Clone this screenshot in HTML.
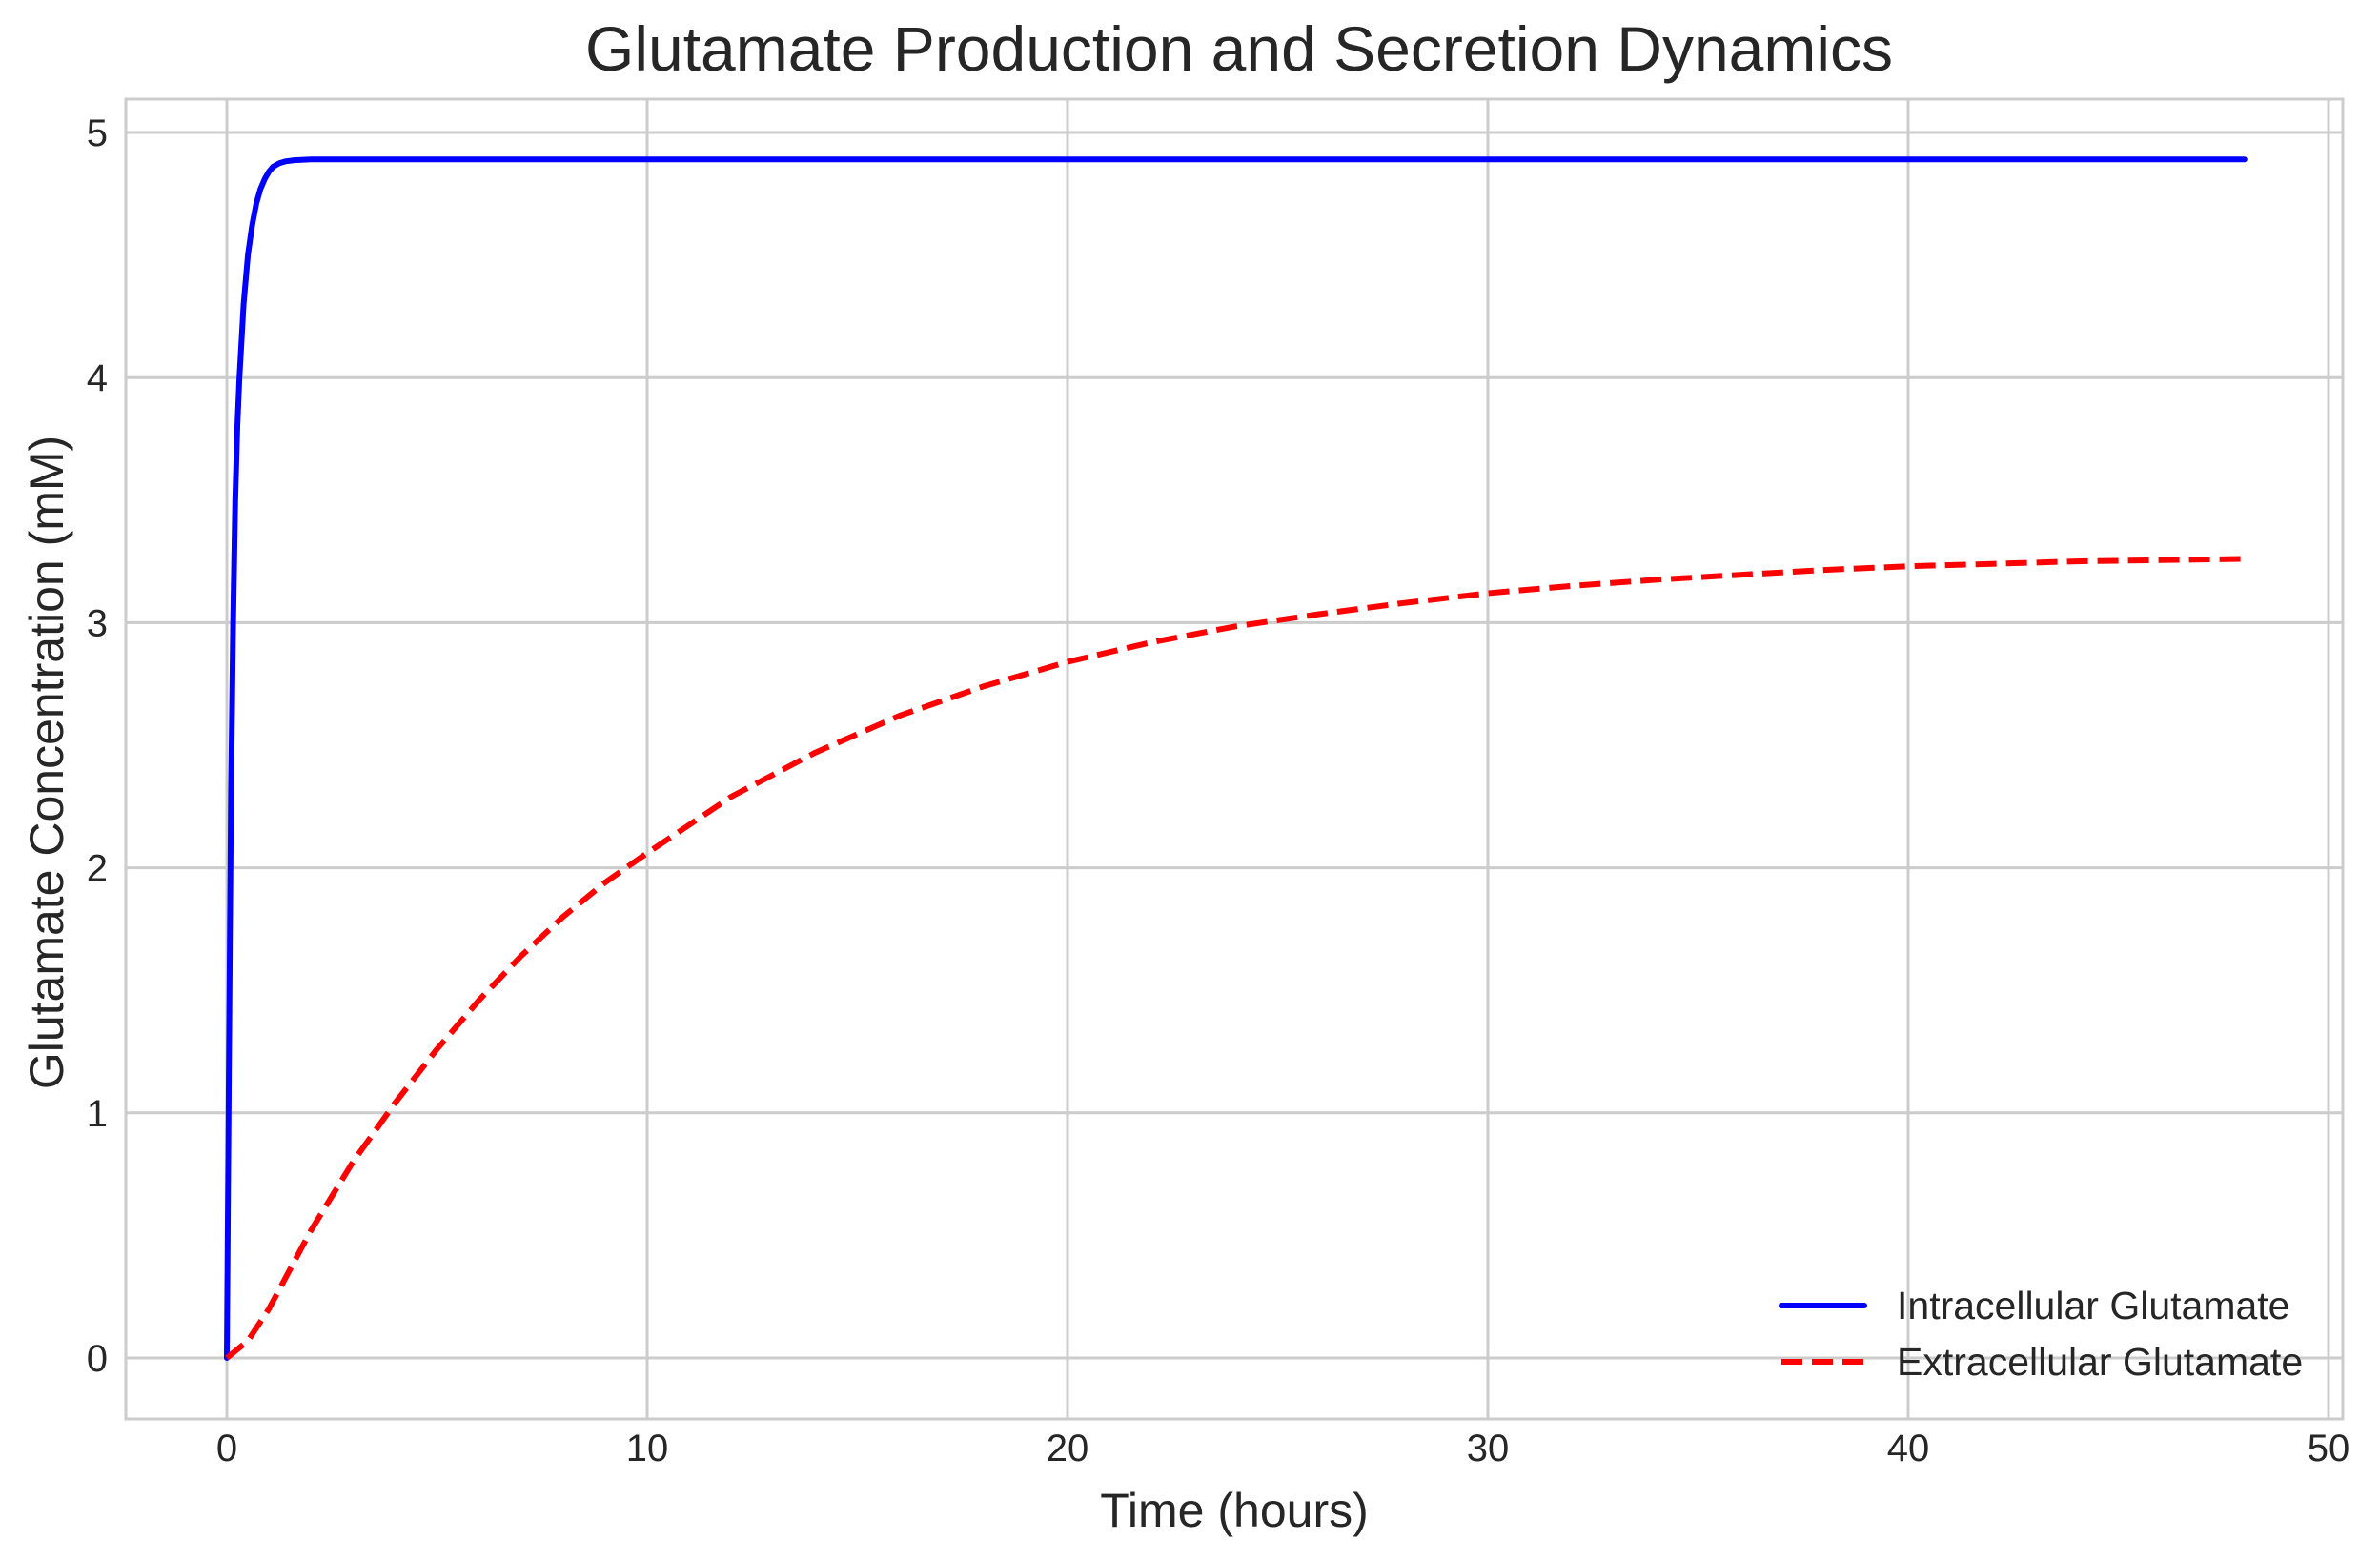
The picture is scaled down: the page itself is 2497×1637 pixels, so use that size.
<!DOCTYPE html>
<html><head><meta charset="utf-8"><style>
html,body{margin:0;padding:0;background:#fff;}
svg{display:block;font-family:"Liberation Sans",sans-serif;}
</style></head><body>
<svg id="chart" width="2497" height="1637" viewBox="0 0 2497 1637" xmlns="http://www.w3.org/2000/svg">
<rect x="0" y="0" width="2497" height="1637" fill="#fff"/>
<g id="grid"></g>
<g id="series"></g>
<rect x="132" y="104" width="2326" height="1385" fill="none" stroke="#cccccc" stroke-width="3"/>
<g id="ticks"></g>
<text x="1300" y="74" font-size="66" fill="#262626" text-anchor="middle">Glutamate Production and Secretion Dynamics</text>
<text x="1295" y="1602" font-size="50" fill="#262626" text-anchor="middle">Time (hours)</text>
<text x="0" y="0" font-size="50" fill="#262626" text-anchor="middle" transform="translate(66,800) rotate(-90)">Glutamate Concentration (mM)</text>
<g>
<g>
<line x1="1869" y1="1370" x2="1956" y2="1370" stroke="#0000ff" stroke-width="6" stroke-linecap="round"/>
<text x="1990" y="1384" font-size="41" fill="#262626">Intracellular Glutamate</text>
</g>
<g>
<line x1="1869" y1="1429" x2="1956" y2="1429" stroke="#ff0000" stroke-width="6" stroke-dasharray="22,10"/>
<text x="1990" y="1443" font-size="41" fill="#262626">Extracellular Glutamate</text>
</g>
</g>
</svg>
<script>
const xTicks = [0, 10, 20, 30, 40, 50];
const yTicks = [0, 1, 2, 3, 4, 5];
const intraT = [0, 0.05, 0.1, 0.15, 0.2, 0.25, 0.3, 0.4, 0.5, 0.6, 0.7, 0.8, 0.9, 1.0, 1.1, 1.25, 1.4, 1.6, 2, 10, 20, 30, 40, 48];
const intraV = [0, 1.2, 2.3, 3.0, 3.5, 3.8, 4.0, 4.3, 4.5, 4.62, 4.71, 4.77, 4.81, 4.84, 4.86, 4.875, 4.882, 4.887, 4.89, 4.89, 4.89, 4.89, 4.89, 4.89];
const extraT = [0, 0.5, 1, 1.5, 2, 3, 4, 5, 6, 7, 8, 9, 10, 12, 14, 16, 18, 20, 22, 24, 26, 28, 30, 32, 34, 36, 38, 40, 42, 44, 46, 48];
const extraV = [0, 0.07, 0.2, 0.36, 0.52, 0.8, 1.04, 1.26, 1.46, 1.64, 1.8, 1.94, 2.06, 2.29, 2.47, 2.62, 2.74, 2.84, 2.92, 2.985, 3.035, 3.08, 3.12, 3.15, 3.175, 3.195, 3.215, 3.23, 3.24, 3.25, 3.255, 3.26];

const NS = "http://www.w3.org/2000/svg";
const X0 = 238, XU = 44.1, Y0 = 1425, YU = 257.2;
function sx(v){ return X0 + v * XU; }
function sy(v){ return Y0 - v * YU; }
function mk(tag, attrs){ const e = document.createElementNS(NS, tag); for (const k in attrs) e.setAttribute(k, attrs[k]); return e; }

const grid = document.getElementById('grid');
const ticks = document.getElementById('ticks');
xTicks.forEach(function(t){
  if (sx(t) < 2458) {
    const g = mk('line', {x1: sx(t), x2: sx(t), y1: 104, y2: 1489, stroke: '#cccccc', 'stroke-width': 3});
    
    
    grid.appendChild(g);
  }
  const lb = mk('text', {x: sx(t), y: 1533, 'font-size': 40, fill: '#262626', 'text-anchor': 'middle'});
  lb.textContent = t;
  
  
  ticks.appendChild(lb);
});
yTicks.forEach(function(t){
  const g = mk('line', {x1: 132, x2: 2458, y1: sy(t), y2: sy(t), stroke: '#cccccc', 'stroke-width': 3});
  
  
  grid.appendChild(g);
  const lb = mk('text', {x: 113, y: sy(t) + 14, 'font-size': 40, fill: '#262626', 'text-anchor': 'end'});
  lb.textContent = t;
  
  
  ticks.appendChild(lb);
});

function pathFrom(ts, vs){
  return ts.map(function(t, i){ return (i ? 'L' : 'M') + sx(t).toFixed(1) + ' ' + sy(vs[i]).toFixed(1); }).join(' ');
}
const series = document.getElementById('series');
const p1 = mk('path', {d: pathFrom(intraT, intraV), fill: 'none', stroke: '#0000ff', 'stroke-width': 6, 'stroke-linejoin': 'round', 'stroke-linecap': 'round'});


series.appendChild(p1);
const p2 = mk('path', {d: pathFrom(extraT, extraV), fill: 'none', stroke: '#ff0000', 'stroke-width': 6, 'stroke-dasharray': '22,10', 'stroke-linejoin': 'round'});


series.appendChild(p2);
</script>
</body></html>
